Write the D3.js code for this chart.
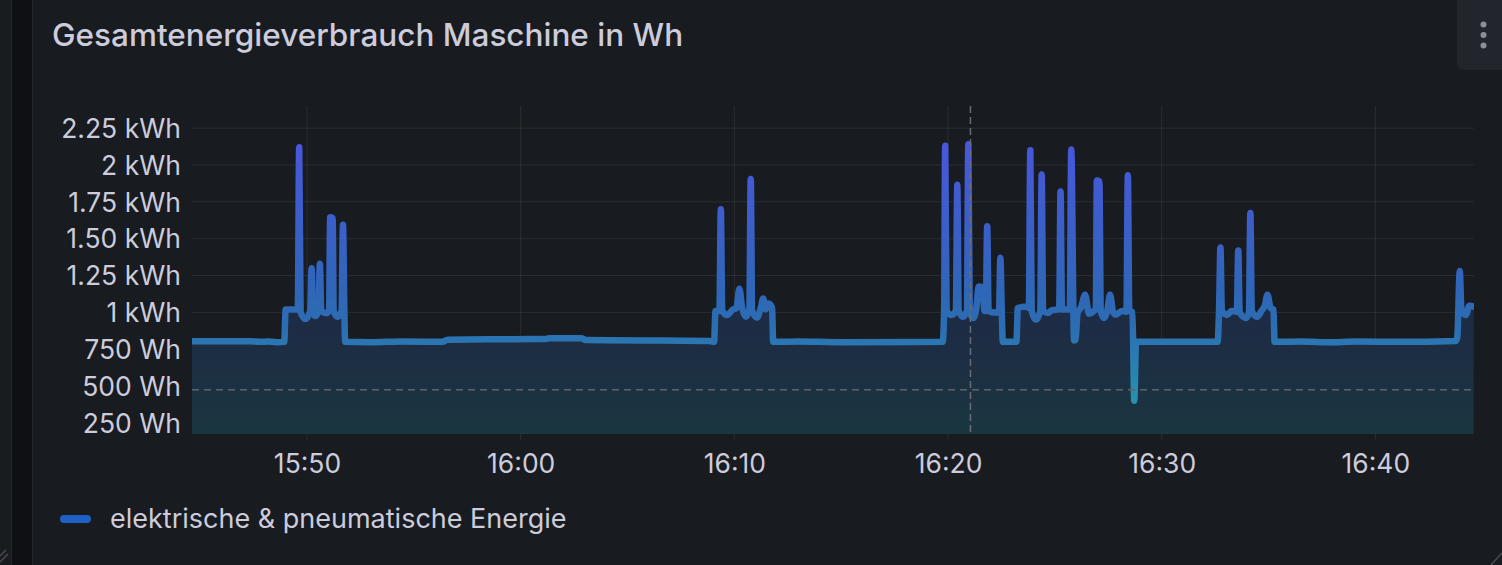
<!DOCTYPE html>
<html>
<head>
<meta charset="utf-8">
<script src="https://cdn.jsdelivr.net/npm/d3@7"></script>
<style>
body { margin: 0; background: #181b1f; }
svg { display: block; font-family: Inter, "Noto Sans", sans-serif; }
</style>
</head>
<body>
<div id="chart"></div>
<script>
const title = 'Gesamtenergieverbrauch Maschine in Wh';
const seriesName = 'elektrische & pneumatische Energie';

// readings (time, Wh)
const times = [
    '15:44:37','15:47:20','15:47:50','15:48:10','15:48:35','15:48:56','15:49:00','15:49:34','15:49:38','15:49:42',
    '15:49:56','15:50:09','15:50:13','15:50:17','15:50:24','15:50:32','15:50:36','15:50:40','15:50:54','15:51:02',
    '15:51:05','15:51:12','15:51:15','15:51:26','15:51:37','15:51:41','15:51:45','15:51:47','15:53:00','15:54:30',
    '15:56:20','15:56:35','15:59:40','16:01:10','16:01:20','16:02:50','16:03:05','16:06:00','16:08:50','16:09:03',
    '16:09:07','16:09:18','16:09:22','16:09:26','16:09:40','16:09:56','16:10:06','16:10:14','16:10:22','16:10:32',
    '16:10:42','16:10:46','16:10:50','16:11:04','16:11:14','16:11:21','16:11:28','16:11:37','16:11:46','16:11:49',
    '16:13:00','16:15:00','16:19:45','16:19:49','16:19:52','16:19:56','16:20:10','16:20:22','16:20:26','16:20:30',
    '16:20:42','16:20:53','16:20:57','16:21:01','16:21:11','16:21:20','16:21:26','16:21:36','16:21:43','16:21:46',
    '16:21:50','16:21:54','16:22:08','16:22:23','16:22:27','16:22:31','16:22:34','16:23:12','16:23:16','16:23:40',
    '16:23:47','16:23:51','16:23:55','16:24:07','16:24:19','16:24:23','16:24:27','16:24:40','16:24:52','16:25:12',
    '16:25:16','16:25:20','16:25:37','16:25:42','16:25:46','16:25:54','16:25:58','16:26:04','16:26:13','16:26:25',
    '16:26:36','16:26:50','16:26:55','16:26:58','16:27:05','16:27:09','16:27:18','16:27:27','16:27:35','16:27:44',
    '16:27:52','16:28:08','16:28:21','16:28:25','16:28:29','16:28:38','16:28:43','16:28:48','16:30:00','16:32:37',
    '16:32:41','16:32:45','16:32:49','16:33:04','16:33:16','16:33:31','16:33:35','16:33:39','16:33:57','16:34:05',
    '16:34:09','16:34:13','16:34:28','16:34:40','16:34:50','16:34:57','16:35:06','16:35:14','16:35:17','16:36:30',
    '16:37:40','16:39:10','16:41:00','16:43:46','16:43:50','16:43:57','16:44:02','16:44:14','16:44:24','16:44:36'
];
const energy = [
    805, 805, 800, 803, 798, 800, 1020, 1020, 2120, 1000,
    955, 1010, 1300, 1000, 975, 1010, 1330, 1010, 995, 1010,
    1645, 1640, 1010, 970, 1010, 1595, 1000, 800, 798, 803,
    800, 815, 818, 820, 825, 824, 812, 810, 806, 800,
    1010, 1010, 1700, 1010, 983, 1020, 1030, 1160, 1030, 971,
    1020, 1905, 1010, 965, 1030, 1095, 1020, 1060, 1030, 800,
    803, 798, 800, 1010, 2130, 1010, 983, 1010, 1865, 1010,
    971, 1010, 2140, 1000, 962, 1040, 1175, 1170, 1010, 1010,
    1585, 1010, 1000, 1000, 1370, 1000, 800, 800, 1030, 1040,
    1030, 2100, 1010, 950, 1010, 1935, 1010, 996, 1015, 1020,
    1820, 1020, 1020, 1020, 2105, 810, 815, 1000, 1030, 1120,
    990, 1010, 1020, 1895, 1890, 1010, 962, 1010, 1120, 1000,
    985, 1010, 1005, 1930, 1010, 1000, 400, 800, 800, 800,
    1010, 1440, 1010, 983, 1010, 1005, 1420, 1000, 962, 1000,
    1675, 1010, 970, 1010, 1050, 1120, 1030, 1020, 800, 803,
    797, 802, 800, 806, 830, 1280, 1010, 983, 1045, 1040
];

const yTicks = [250, 500, 750, 1000, 1250, 1500, 1750, 2000, 2250];
const yTickLabels = ['250 Wh', '500 Wh', '750 Wh', '1 kWh', '1.25 kWh', '1.50 kWh', '1.75 kWh', '2 kWh', '2.25 kWh'];
const xTicks = ['15:50', '16:00', '16:10', '16:20', '16:30', '16:40'];
const timeRange = ['15:44:37', '16:44:37'];
const valueRange = [175, 2400];
const threshold = 475;
const cursorTime = '16:21:03';

var state = {
    width: 1502,
    height: 565,
    bgColor: '#181b1f',
    textColor: '#ccccdc',
    gridColor: 'rgba(204,204,220,0.1)',
    plot: {left: 192, right: 1474, top: 106, bottom: 434}
};

const parseTime = d3.timeParse('%H:%M:%S');
const parseTick = d3.timeParse('%H:%M');

draw();

function draw(){
    let svg = d3.select('#chart')
        .append('svg')
            .attr('width', state.width)
            .attr('height', state.height)
            .style('background', state.bgColor);

    drawFrame(svg);

    let p = state.plot;
    let x = d3.scaleTime()
        .domain(timeRange.map(parseTime))
        .range([p.left, p.right]);
    let y = d3.scaleLinear()
        .domain(valueRange)
        .range([p.bottom, p.top]);

    let data = times.map((t, i) => ({t: parseTime(t), v: energy[i]}));

    let defs = svg.append('defs');
    defs.append('clipPath').attr('id', 'plotClip')
        .append('rect')
            .attr('x', p.left)
            .attr('y', p.top - 10)
            .attr('width', p.right - p.left)
            .attr('height', p.bottom - p.top + 10);

    // line colour follows the value (blue-purple scheme)
    let lineGrad = defs.append('linearGradient')
        .attr('id', 'lineGrad')
        .attr('gradientUnits', 'userSpaceOnUse')
        .attr('x1', 0).attr('x2', 0)
        .attr('y1', y(2250)).attr('y2', y(400));
    [[0, '#4b55e0'], [0.6, '#2f66b8'], [0.72, '#2c6db2'], [1, '#2790b2']].forEach(s => {
        lineGrad.append('stop').attr('offset', s[0]).attr('stop-color', s[1]);
    });

    let areaGrad = defs.append('linearGradient')
        .attr('id', 'areaGrad')
        .attr('gradientUnits', 'userSpaceOnUse')
        .attr('x1', 0).attr('x2', 0)
        .attr('y1', p.top).attr('y2', p.bottom);
    [[0, '#262a5e'], [0.55, '#1e2a46'], [0.72, '#1d2d44'], [1, '#1a3640']].forEach(s => {
        areaGrad.append('stop').attr('offset', s[0]).attr('stop-color', s[1]);
    });

    // grid
    let grid = svg.append('g');
    grid.selectAll('.hgrid')
        .data(yTicks)
        .enter()
        .append('line')
            .attr('x1', p.left)
            .attr('x2', p.right)
            .attr('y1', d => y(d))
            .attr('y2', d => y(d))
            .style('stroke', state.gridColor)
            .style('stroke-width', 1);
    grid.selectAll('.vgrid')
        .data(xTicks.map(parseTick))
        .enter()
        .append('line')
            .attr('x1', d => x(d))
            .attr('x2', d => x(d))
            .attr('y1', p.top)
            .attr('y2', p.bottom + 6)
            .style('stroke', state.gridColor)
            .style('stroke-width', 1);

    // area + line
    let curve = d3.curveMonotoneX;
    let plotG = svg.append('g').attr('clip-path', 'url(#plotClip)');
    plotG.append('path')
        .datum(data)
        .attr('d', d3.area().curve(curve).x(d => x(d.t)).y0(p.bottom).y1(d => y(d.v)))
        .style('fill', 'url(#areaGrad)');

    // threshold line
    svg.append('line')
        .attr('x1', p.left)
        .attr('x2', p.right)
        .attr('y1', y(threshold))
        .attr('y2', y(threshold))
        .style('stroke', '#5f626b')
        .style('stroke-width', 1.5)
        .style('stroke-dasharray', '7,5');

    plotG.append('path')
        .datum(data)
        .attr('d', d3.line().curve(curve).x(d => x(d.t)).y(d => y(d.v)))
        .style('fill', 'none')
        .style('stroke', 'url(#lineGrad)')
        .style('stroke-width', 6.5)
        .style('stroke-linejoin', 'round')
        .style('stroke-linecap', 'round');

    // cursor marker
    svg.append('line')
        .attr('x1', x(parseTime(cursorTime)))
        .attr('x2', x(parseTime(cursorTime)))
        .attr('y1', p.top)
        .attr('y2', p.bottom)
        .style('stroke', '#6a6c75')
        .style('stroke-width', 1.5)
        .style('stroke-dasharray', '7,4');

    // axes
    let yAxis = d3.axisLeft(y)
        .tickValues(yTicks)
        .tickSize(0)
        .tickPadding(0)
        .tickFormat((d, i) => yTickLabels[i]);
    svg.append('g')
        .attr('transform', 'translate(181,0)')
        .call(yAxis)
        .call(g => g.select('.domain').remove())
        .selectAll('text')
            .attr('dy', '0.35em')
            .style('font-family', 'Inter, sans-serif')
            .style('font-size', '26.5px')
            .style('fill', state.textColor);

    let xAxis = d3.axisBottom(x)
        .tickValues(xTicks.map(parseTick))
        .tickSize(0)
        .tickPadding(0)
        .tickFormat(d3.timeFormat('%H:%M'));
    svg.append('g')
        .attr('transform', 'translate(0,473)')
        .call(xAxis)
        .call(g => g.select('.domain').remove())
        .selectAll('text')
            .attr('dy', 0)
            .style('font-family', 'Inter, sans-serif')
            .style('font-size', '26.5px')
            .style('fill', state.textColor);

    drawLegend(svg);
}

function drawFrame(svg){
    // neighbouring panel strip on the left
    svg.append('rect')
        .attr('x', 11.5).attr('y', 0)
        .attr('width', 21).attr('height', state.height)
        .style('fill', '#0f1013');
    [11.5, 32.5].forEach(xx => {
        svg.append('line')
            .attr('x1', xx).attr('x2', xx)
            .attr('y1', 0).attr('y2', state.height)
            .style('stroke', '#24262b')
            .style('stroke-width', 1);
    });

    svg.append('text')
        .attr('x', 52)
        .attr('y', 46)
        .text(title)
        .style('font-family', 'Inter, sans-serif')
        .style('font-size', '31.5px')
        .style('font-weight', 500)
        .style('fill', state.textColor);

    // panel menu button
    svg.append('rect')
        .attr('x', 1457).attr('y', -10)
        .attr('width', 60).attr('height', 80)
        .attr('rx', 6)
        .style('fill', '#22252b');
    [24.5, 35, 45.5].forEach(cy => {
        svg.append('circle')
            .attr('cx', 1483.5)
            .attr('cy', cy)
            .attr('r', 3)
            .style('fill', '#8e8e9a');
    });

    // resize handles
    [[0, 556, 6, 550], [0, 562, 8, 554]].forEach(l => {
        svg.append('line')
            .attr('x1', l[0]).attr('y1', l[1]).attr('x2', l[2]).attr('y2', l[3])
            .style('stroke', '#4a4c53').style('stroke-width', 1.5);
    });
    svg.append('line')
        .attr('x1', 1491).attr('y1', 565).attr('x2', 1502).attr('y2', 553)
        .style('stroke', '#4a4c53').style('stroke-width', 1.5);
}

function drawLegend(svg){
    let g = svg.append('g').attr('transform', 'translate(60,519)');
    g.append('rect')
        .attr('x', 0).attr('y', -4)
        .attr('width', 31).attr('height', 8)
        .attr('rx', 4)
        .style('fill', '#1f60c4');
    g.append('text')
        .attr('x', 50)
        .attr('dy', '0.35em')
        .text(seriesName)
        .style('font-family', 'Inter, sans-serif')
        .style('font-size', '27px')
        .style('fill', state.textColor);
}
</script>
</body>
</html>
